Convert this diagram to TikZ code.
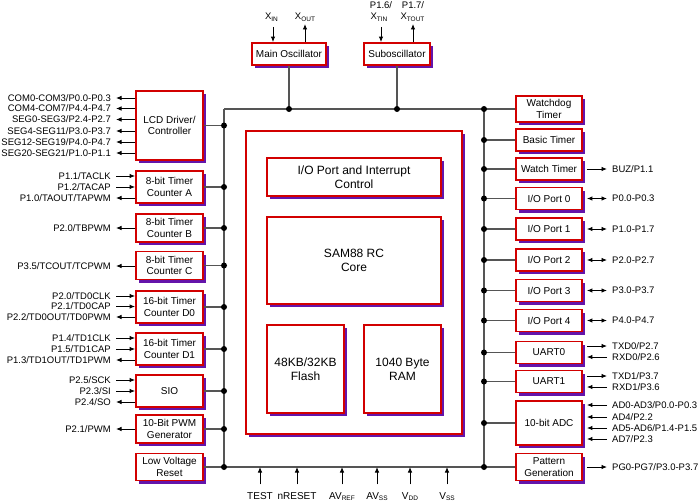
\documentclass[tikz,border=0pt]{standalone}
\usepackage{fontspec}
\setmainfont{Liberation Sans}
\usetikzlibrary{arrows.meta,shadows}
\definecolor{bred}{RGB}{210,0,0}
\definecolor{bshadow}{RGB}{100,20,170}
\definecolor{busgray}{RGB}{85,85,85}
\newcommand\sbx[1]{\raisebox{-1.3pt}{\fontsize{6.5}{7}\selectfont #1}}
\begin{document}
\begin{tikzpicture}[x=1pt,y=-1pt,
  blk/.style={draw=bred, line width=1.8pt, fill=white, inner sep=0pt, align=center,
    font=\fontsize{10}{11.5}\selectfont,
    drop shadow={shadow xshift=3.4pt, shadow yshift=-3.4pt, fill=bshadow, opacity=1}},
  big/.style={blk, font=\fontsize{12}{14.3}\selectfont},
  lbox/.style={blk, minimum width=67pt},
  rbox/.style={blk, minimum width=66pt},
  busl/.style={draw=busgray, line width=1.4pt},
  arr/.style={draw=black, line width=0.9pt, -{Latex[length=5.5pt,width=4.5pt]}},
  barr/.style={draw=black, line width=0.9pt, {Latex[length=5.5pt,width=4.5pt]}-{Latex[length=5.5pt,width=4.5pt]}},
  ll/.style={anchor=east, inner xsep=5pt, inner ysep=0pt, font=\fontsize{9.5}{11}\selectfont},
  rl/.style={anchor=west, inner xsep=5pt, inner ysep=0pt, font=\fontsize{9.5}{11}\selectfont},
  tl/.style={anchor=base, inner sep=0pt, font=\fontsize{9.5}{11}\selectfont},
  bot/.style={anchor=base, inner xsep=0pt, inner ysep=7pt, text height=7.5pt, text depth=2pt, font=\fontsize{10}{12}\selectfont},
  dot/.style={fill=black}
]
\useasboundingbox (0,0) rectangle (700,503);
\fill[white] (0,0) rectangle (700,503);

% bus corners
\coordinate (c tl) at (224,109);
\coordinate (c tr) at (484,109);
\coordinate (c bl) at (224,467);
\coordinate (c br) at (484,467);

% top oscillators
\node[blk, minimum width=74pt, minimum height=22pt] (mosc) at (289,54) {Main Oscillator};
\node[blk, minimum width=66pt, minimum height=22pt] (sosc) at (397,54) {Suboscillator};

% core block
\node[big, minimum width=216pt, minimum height=303pt] (chip) at (354,282.5) {};
\node[big, minimum width=174pt, minimum height=38pt] (iopc) at (354,177) {I/O Port and Interrupt\\Control};
\node[big, minimum width=174pt, minimum height=87pt] (core) at (354,260.5) {SAM88 RC\\Core};
\node[big, minimum width=77pt, minimum height=88pt] (flash) at (305.5,369) {48KB/32KB\\Flash};
\node[big, minimum width=77pt, minimum height=88pt] (ram) at (402.5,369) {1040 Byte\\RAM};

% left blocks
\node[lbox, minimum height=69pt] (lcd) at (169.5,125.5) {LCD Driver/\\Controller};
\node[lbox, minimum height=32pt] (tca) at (169.5,187) {8-bit Timer\\Counter A};
\node[lbox, minimum height=28pt] (tcb) at (169.5,228) {8-bit Timer\\Counter B};
\node[lbox, minimum height=28pt] (tcc) at (169.5,265.5) {8-bit Timer\\Counter C};
\node[lbox, minimum height=32pt] (tcd0) at (169.5,307) {16-bit Timer\\Counter D0};
\node[lbox, minimum height=32pt] (tcd1) at (169.5,349) {16-bit Timer\\Counter D1};
\node[lbox, minimum height=32pt] (sio) at (169.5,391) {SIO};
\node[lbox, minimum height=28pt] (pwm) at (169.5,429) {10-Bit PWM\\Generator};
\node[lbox, minimum height=27pt] (lvr) at (169.5,467) {Low Voltage\\Reset};

% right blocks
\node[rbox, minimum height=26pt] (wdt) at (549,109) {Watchdog\\Timer};
\node[rbox, minimum height=22pt] (bt) at (549,140) {Basic Timer};
\node[rbox, minimum height=22pt] (wt) at (549,169) {Watch Timer};
\node[rbox, minimum height=22pt] (io0) at (549,198.5) {I/O Port 0};
\node[rbox, minimum height=22pt] (io1) at (549,229) {I/O Port 1};
\node[rbox, minimum height=22pt] (io2) at (549,260) {I/O Port 2};
\node[rbox, minimum height=22pt] (io3) at (549,290.5) {I/O Port 3};
\node[rbox, minimum height=22pt] (io4) at (549,320.5) {I/O Port 4};
\node[rbox, minimum height=22pt] (uart0) at (549,352.5) {UART0};
\node[rbox, minimum height=22pt] (uart1) at (549,381.5) {UART1};
\node[rbox, minimum height=44pt] (adc) at (549,423) {10-bit ADC};
\node[rbox, minimum height=27pt] (pg) at (549,467) {Pattern\\Generation};

% bus
\draw[busl] (c tl) -- (c tr) -- (wdt.west);
\draw[busl] (c tl) -- (c bl);
\draw[busl] (c tr) -- (c br);
\draw[busl] (lvr.east) -- (c bl) -- (c br) -- (pg.west);
\draw[busl] (mosc.south) -- (mosc.south |- c tl);
\draw[busl] (sosc.south) -- (sosc.south |- c tl);
\fill[dot] (mosc.south |- c tl) circle (3);
\fill[dot] (sosc.south |- c tl) circle (3);
\fill[dot] (c tr) circle (3);
\fill[dot] (c bl) circle (3);
\fill[dot] (c br) circle (3);
\foreach \n in {lcd,tca,tcb,tcc,tcd0,tcd1,sio,pwm}{
  \draw[busl] (\n.east) -- (\n.east -| c tl);
  \fill[dot] (\n.east -| c tl) circle (3);
}
\foreach \n in {bt,wt,io0,io1,io2,io3,io4,uart0,uart1,adc}{
  \draw[busl] (\n.west) -- (\n.west -| c tr);
  \fill[dot] (\n.west -| c tr) circle (3);
}

% top labels
\node[tl] (xin) at (271.5,20) {X\sbx{IN}};
\node[tl] (xout) at (305,20) {X\sbx{OUT}};
\coordinate (axin) at (273,27);
\coordinate (axout) at (305,24);
\draw[arr] (axin) -- (axin |- mosc.north);
\draw[arr] (axout |- mosc.north) -- (axout);
\node[tl] (p16) at (381,9) {P1.6/};
\node[tl] (xtin) at (379,20) {X\sbx{TIN}};
\node[tl] (p17) at (413,9) {P1.7/};
\node[tl] (xtout) at (412.5,20) {X\sbx{TOUT}};
\coordinate (axtin) at (381,27);
\coordinate (axtout) at (413,24);
\draw[arr] (axtin) -- (axtin |- sosc.north);
\draw[arr] (axtout |- sosc.north) -- (axtout);

% left labels
\node[ll] (l1) at (116,98) {COM0-COM3/P0.0-P0.3};
\node[ll] (l2) at (116,108.5) {COM4-COM7/P4.4-P4.7};
\node[ll] (l3) at (116,119.5) {SEG0-SEG3/P2.4-P2.7};
\node[ll] (l4) at (116,131) {SEG4-SEG11/P3.0-P3.7};
\node[ll] (l5) at (116,142) {SEG12-SEG19/P4.0-P4.7};
\node[ll] (l6) at (116,153) {SEG20-SEG21/P1.0-P1.1};
\foreach \l in {l1,l2,l3,l4,l5,l6}{\draw[arr] (lcd.west |- \l) -- (\l.east);}

\node[ll] (a1) at (116,176) {P1.1/TACLK};
\node[ll] (a2) at (116,187) {P1.2/TACAP};
\node[ll] (a3) at (116,198) {P1.0/TAOUT/TAPWM};
\draw[arr] (a1.east) -- (tca.west |- a1);
\draw[arr] (a2.east) -- (tca.west |- a2);
\draw[arr] (tca.west |- a3) -- (a3.east);

\node[ll] (b1) at (116,228) {P2.0/TBPWM};
\draw[arr] (tcb.west |- b1) -- (b1.east);
\node[ll] (c1) at (116,266) {P3.5/TCOUT/TCPWM};
\draw[arr] (tcc.west |- c1) -- (c1.east);

\node[ll] (d1) at (116,296) {P2.0/TD0CLK};
\node[ll] (d2) at (116,306.5) {P2.1/TD0CAP};
\node[ll] (d3) at (116,317) {P2.2/TD0OUT/TD0PWM};
\draw[arr] (d1.east) -- (tcd0.west |- d1);
\draw[arr] (d2.east) -- (tcd0.west |- d2);
\draw[arr] (tcd0.west |- d3) -- (d3.east);

\node[ll] (e1) at (116,338) {P1.4/TD1CLK};
\node[ll] (e2) at (116,349) {P1.5/TD1CAP};
\node[ll] (e3) at (116,360) {P1.3/TD1OUT/TD1PWM};
\draw[arr] (e1.east) -- (tcd1.west |- e1);
\draw[arr] (e2.east) -- (tcd1.west |- e2);
\draw[arr] (tcd1.west |- e3) -- (e3.east);

\node[ll] (s1) at (116,380) {P2.5/SCK};
\node[ll] (s2) at (116,391) {P2.3/SI};
\node[ll] (s3) at (116,402) {P2.4/SO};
\draw[arr] (s1.east) -- (sio.west |- s1);
\draw[arr] (s2.east) -- (sio.west |- s2);
\draw[arr] (sio.west |- s3) -- (s3.east);

\node[ll] (g1) at (116,429) {P2.1/PWM};
\draw[arr] (pwm.west |- g1) -- (g1.east);

% right labels
\node[rl] (r1) at (607,169) {BUZ/P1.1};
\draw[arr] ([xshift=4pt]wt.east |- r1) -- (r1.west);
\node[rl] (p0) at (607,198.5) {P0.0-P0.3};
\node[rl] (p1) at (607,229) {P1.0-P1.7};
\node[rl] (p2) at (607,260) {P2.0-P2.7};
\node[rl] (p3) at (607,290.5) {P3.0-P3.7};
\node[rl] (p4) at (607,320.5) {P4.0-P4.7};
\draw[barr] ([xshift=4pt]io0.east) -- (p0.west);
\draw[barr] ([xshift=4pt]io1.east) -- (p1.west);
\draw[barr] ([xshift=4pt]io2.east) -- (p2.west);
\draw[barr] ([xshift=4pt]io3.east) -- (p3.west);
\draw[barr] ([xshift=4pt]io4.east) -- (p4.west);

\node[rl] (u1) at (607,346) {TXD0/P2.7};
\node[rl] (u2) at (607,357) {RXD0/P2.6};
\draw[arr] ([xshift=4pt]uart0.east |- u1) -- (u1.west);
\draw[arr] (u2.west) -- ([xshift=4pt]uart0.east |- u2);
\node[rl] (u3) at (607,376) {TXD1/P3.7};
\node[rl] (u4) at (607,387) {RXD1/P3.6};
\draw[arr] ([xshift=4pt]uart1.east |- u3) -- (u3.west);
\draw[arr] (u4.west) -- ([xshift=4pt]uart1.east |- u4);

\node[rl] (ad1) at (607,405) {AD0-AD3/P0.0-P0.3};
\node[rl] (ad2) at (607,417) {AD4/P2.2};
\node[rl] (ad3) at (607,428) {AD5-AD6/P1.4-P1.5};
\node[rl] (ad4) at (607,439) {AD7/P2.3};
\foreach \a in {ad1,ad2,ad3,ad4}{\draw[arr] (\a.west) -- ([xshift=4pt]adc.east |- \a);}

\node[rl] (pgl) at (607,467) {PG0-PG7/P3.0-P3.7};
\draw[arr] ([xshift=4pt]pg.east) -- (pgl.west);

% bottom labels
\node[bot] (test) at (260,499) {TEST};
\node[bot] (nrst) at (297,499) {nRESET};
\node[bot] (avref) at (342,499) {AV\sbx{REF}};
\node[bot] (avss) at (377,499) {AV\sbx{SS}};
\node[bot] (vdd) at (410,499) {V\sbx{DD}};
\node[bot] (vss) at (447,499) {V\sbx{SS}};
\foreach \b in {test,nrst,avref,avss,vdd,vss}{\draw[arr] (\b.north) -- (\b.north |- c bl);}
\end{tikzpicture}
\end{document}
